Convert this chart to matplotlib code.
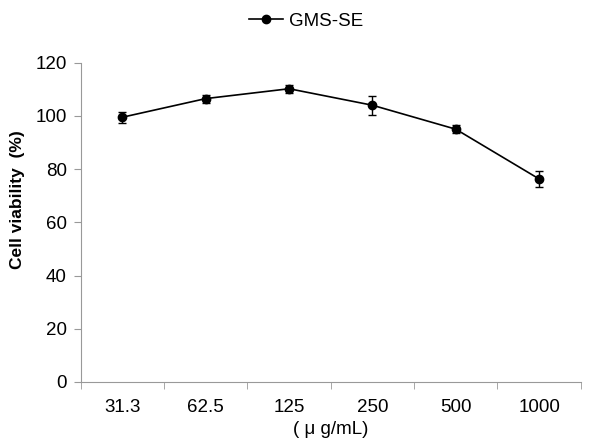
import matplotlib
matplotlib.use("Agg")
import matplotlib.pyplot as plt
from matplotlib.lines import Line2D
import numpy as np

plt.rcParams['font.family'] = ['Liberation Sans', 'DejaVu Sans']

# data
doses = ['31.3', '62.5', '125', '250', '500', '1000']
viability = [99.5, 106.5, 110.2, 104.0, 95.0, 76.3]
errors = [2.0, 1.5, 1.5, 3.5, 1.5, 3.0]
y_ticks = [0, 20, 40, 60, 80, 100, 120]

fig = plt.figure(figsize=(6.12, 4.46), dpi=100)
ax = fig.add_axes([0.132, 0.1435, 0.817, 0.716])

x = np.arange(len(doses))
ax.errorbar(x, viability, yerr=errors, color='black', marker='o', markersize=6,
            linewidth=1.2, capsize=3, elinewidth=1, capthick=1)

ax.set_xlim(-0.5, len(doses) - 0.5)
ax.set_ylim(0, 120)
ax.set_yticks(y_ticks)
ax.set_xticks(x)
ax.set_xticklabels(doses, fontsize=13.5)
ax.set_xticks(np.arange(-0.5, len(doses)), minor=True)
ax.tick_params(axis='x', which='major', length=0, pad=12)
ax.tick_params(axis='x', which='minor', length=5, color='#999999')
ax.tick_params(axis='y', length=5, color='#999999', labelsize=13.5, pad=5)

for side in ['top', 'right']:
    ax.spines[side].set_visible(False)
for side in ['left', 'bottom']:
    ax.spines[side].set_color('#999999')

ax.set_xlabel('( \u03bc g/mL)', fontsize=13.5, labelpad=4)
ax.set_ylabel('Cell viability  (%)', fontsize=12.5, fontweight='bold')
ax.yaxis.set_label_coords(-0.112, 0.57)

handle = Line2D([], [], color='black', marker='o', markersize=6, linewidth=1.2)
fig.legend([handle], ['GMS-SE'], loc='upper center', bbox_to_anchor=(0.5, 1.01),
           frameon=False, fontsize=13.5, handlelength=1.8, handletextpad=0.3)

fig.savefig('out.png', dpi=100)
